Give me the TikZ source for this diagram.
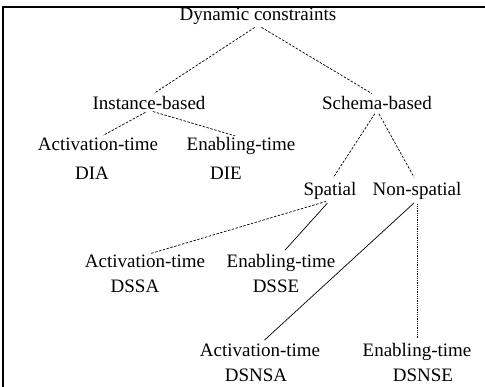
\documentclass[tikz,border=0pt]{standalone}
\usepackage{fontspec}
\setmainfont{Liberation Serif}
\tikzset{
  lbl/.style={anchor=base, inner sep=0pt, font=\fontsize{19}{22}\selectfont},
  dashlink/.style={line width=0.7pt, dash pattern=on 2.5pt off 1.5pt, shorten <=4pt, shorten >=6pt},
  solidlink/.style={line width=0.7pt, shorten <=4pt, shorten >=6pt},
  dotlink/.style={line width=0.7pt, dash pattern=on 1pt off 0.8pt, shorten <=4pt, shorten >=6pt}
}
\begin{document}
\begin{tikzpicture}[x=1pt,y=-1pt]
        \useasboundingbox (0,0) rectangle (485,387);
        \draw [line width=1.3pt] (3,387) -- (3,7) -- (485,7);
        % top levels
        \node [lbl] (dyn) at (258,21) {Dynamic constraints};
        \node [lbl] (inst) at (149,110) {Instance-based};
        \node [lbl] (schema) at (377,110) {Schema-based};
        % instance-based
        \node [lbl] (actI) at (98,151) {Activation-time};
        \node [lbl] (enI) at (241,151) {Enabling-time};
        \node [lbl] (dia) at (92,180) {DIA};
        \node [lbl] (die) at (226,180) {DIE};
        % schema-based
        \node [lbl] (sp) at (330,196) {Spatial};
        \node [lbl] (nsp) at (417,196) {Non-spatial};
        \node [lbl] (actS) at (145,268) {Activation-time};
        \node [lbl] (enS) at (281,268) {Enabling-time};
        \node [lbl] (dssa) at (135,293) {DSSA};
        \node [lbl] (dsse) at (276,293) {DSSE};
        \node [lbl] (actN) at (260,357) {Activation-time};
        \node [lbl] (enN) at (417,357) {Enabling-time};
        \node [lbl] (dsnsa) at (256,382) {DSNSA};
        \node [lbl] (dsnse) at (423,382) {DSNSE};
        % links
        \draw [dashlink] (dyn.south) -- (inst.north);
        \draw [dashlink] (dyn.south) -- (schema.north);
        \draw [dashlink] (inst.south) -- (actI.north);
        \draw [dashlink] (inst.south) -- (enI.north);
        \draw [dashlink] (schema.south) -- (sp.north);
        \draw [dashlink] (schema.south) -- (nsp.north);
        \draw [dashlink] (sp.south) -- (actS.north);
        \draw [solidlink] (sp.south) -- (enS.north);
        \draw [solidlink] (nsp.south) -- (actN.north);
        \draw [dotlink] (nsp.south) -- (enN.north);
      \end{tikzpicture}
\end{document}
